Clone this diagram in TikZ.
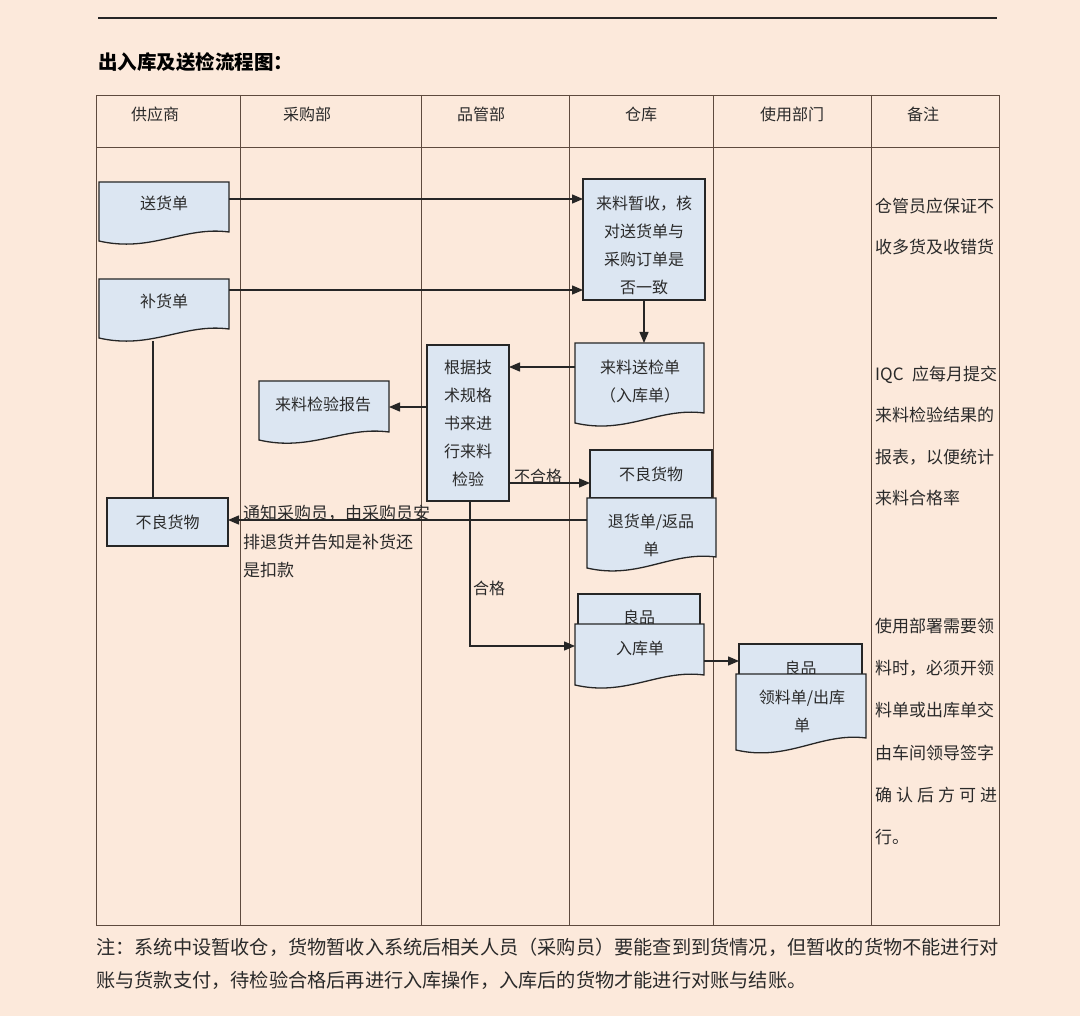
\documentclass[tikz,border=0pt]{standalone}
\usepackage{fontspec}
\setmainfont{Noto Sans CJK SC}
\usetikzlibrary{arrows.meta,calc}
\definecolor{bgc}{HTML}{FCE9DB}
\definecolor{boxfill}{HTML}{DCE6F2}
\definecolor{ink}{HTML}{262626}
\definecolor{txtc}{HTML}{2A2A2A}
\definecolor{gridc}{HTML}{5E4A3E}
% document shape: name, x1, top, x2, left-bottom, right rise
\newcommand\docshape[6]{%
  \path[docbox] (#2,#3) -- (#4,#3) -- (#4,{#5-#6})
    .. controls ({#4-0.35*(#4-#2)},{#5-#6-6}) and ({#2+0.4*(#4-#2)},{#5+12}) .. (#2,#5) -- cycle;
  \node[anchorbox, minimum width={#4-#2}, minimum height={#5-#3}] (#1) at ({(#2+#4)/2},{(#3+#5)/2}) {};
}
\begin{document}
\begin{tikzpicture}[x=1pt,y=-1pt,
  docbox/.style={fill=boxfill,draw=ink,line width=1.3pt},
  anchorbox/.style={draw=none,inner sep=0pt,outer sep=0pt,rectangle},
  rectbox/.style={rectangle,fill=boxfill,draw=ink,line width=1.3pt,inner sep=0pt,outer sep=0pt,
    font=\fontsize{16}{28}\selectfont,text=txtc,align=center},
  txt/.style={font=\fontsize{16}{28}\selectfont,text=txtc,align=center,inner sep=0pt},
  note/.style={font=\fontsize{17}{41.5}\selectfont,text=txtc,align=left,inner sep=0pt,anchor=west},
  arr/.style={draw=ink,line width=1.3pt,-{Triangle[length=11pt,width=9pt]}},
  ln/.style={draw=ink,line width=1.3pt},
  gridl/.style={draw=gridc,line width=0.9pt}]
\fill[bgc] (0,0) rectangle (1080,1016);
\useasboundingbox (0,0) rectangle (1080,1016);

% top rule and title
\draw[draw=ink,line width=1.4pt] (98,18) -- (997,18);
\node[anchor=west,inner sep=0pt,font=\fontsize{19.5}{22}\selectfont\bfseries,text=black] (title) at (98,62) {出入库及送检流程图：};

% table
\draw[gridl] (96,95) rectangle (999,925);
\draw[gridl] (96,147) -- (999,147);
\foreach \xx in {240,421,569,713,871} \draw[gridl] (\xx,95) -- (\xx,925);
\node[txt] (h1) at (155,114) {供应商};
\node[txt] (h2) at (307,114) {采购部};
\node[txt] (h3) at (481,114) {品管部};
\node[txt] (h4) at (641,114) {仓库};
\node[txt] (h5) at (792,114) {使用部门};
\node[txt] (h6) at (923,114) {备注};

% supplier column
\docshape{song}{99}{182}{229}{241}{9}
\node[txt] (songt) at (164,203) {送货单};
\docshape{bu}{99}{279}{229}{338}{9}
\node[txt] (but) at (164,301) {补货单};
\node[rectbox,minimum width=121,minimum height=48] (blL) at (167.5,522) {不良货物};

% warehouse
\node[rectbox,minimum width=122,minimum height=121] (zs) at (644,239.5) {};
\node[txt] (zst) at (644,245) {来料暂收，核\\对送货单与\\采购订单是\\否一致};
\docshape{sj}{575}{343}{704}{423}{10}
\node[txt] (sjt) at (640,381) {来料送检单\\（入库单）};

% QC
\node[rectbox,minimum width=82,minimum height=156] (gj) at (468,423) {根据技\\术规格\\书来进\\行来料\\检验};
\docshape{bg}{259}{381}{389}{440}{8}
\node[txt] (bgt) at (323,404) {来料检验报告};

\node[rectbox,minimum width=122,minimum height=48] (blM) at (651,474) {不良货物};
\docshape{th}{587}{498}{716}{568}{11}
\node[txt] (tht) at (651,535) {退货单/返品\\单};

\node[rectbox,minimum width=122,minimum height=46] (lpA) at (639,617) {良品};
\docshape{rk}{575}{624}{704}{685}{10}
\node[txt] (rkt) at (640,648) {入库单};

\node[rectbox,minimum width=123,minimum height=48] (lpB) at (800.5,668) {良品};
\docshape{ll}{736}{674}{866}{750}{12}
\node[txt] (llt) at (802,711.5) {领料单/出库\\单};

% connectors
\coordinate (c1) at ($(song.north east)+(0,17)$);
\draw[arr] (c1) -- (c1 -| zs.west);
\coordinate (c2) at ($(bu.north east)+(0,11)$);
\draw[arr] (c2) -- (c2 -| zs.west);
\draw[arr] (zs.south) -- (zs.south |- sj.north);
\coordinate (c4) at ($(sj.north west)+(0,24)$);
\draw[arr] (c4) -- (c4 -| gj.east);
\coordinate (c5) at ($(gj.west)+(0,-16)$);
\draw[arr] (c5) -- (c5 -| bg.east);
\coordinate (c6) at ($(gj.south east)+(0,-18)$);
\draw[arr] (c6) -- (c6 -| blM.west);
\node[txt,anchor=south west] (bhg) at (514,484) {不合格};
\coordinate (c8) at ($(bu.south west)+(54,3)$);
\draw[ln] (c8) -- (c8 |- blL.north);
\node[txt,font=\fontsize{17}{28.5}\selectfont,align=left,anchor=north west] (tz) at (243,505) {通知采购员，由采购员安\\排退货并告知是补货还\\是扣款};
\coordinate (c7) at ($(th.north west)+(0,22)$);
\draw[arr] (c7) -- (c7 -| blL.east);
\coordinate (c9) at ($(gj.south)+(2,0)$);
\coordinate (c9b) at ($(rk.north west)+(0,22)$);
\draw[arr] (c9) |- (c9b);
\node[txt,anchor=west] (hg) at (473,588) {合格};
\coordinate (c10) at ($(rk.north east)+(0,37)$);
\draw[arr] (c10) -- (c10 -| lpB.west);

% notes column
\node[note] (n1) at (875,226.5) {仓管员应保证不\\收多货及收错货};
\node[note] (n2) at (875,436) {\makebox[122pt][s]{IQC\hfil 应每月提交}\\来料检验结果的\\报表，以便统计\\来料合格率};
\node[note,font=\fontsize{17}{42.2}\selectfont] (n3) at (875,731.5) {使用部署需要领\\料时，必须开领\\料单或出库单交\\由车间领导签字\\\makebox[122pt][s]{确\hfil 认\hfil 后\hfil 方\hfil 可\hfil 进}\\行。};

% bottom remark
\node[txt,font=\fontsize{19.2}{33}\selectfont,align=left,anchor=west] (rem) at (96,963.5) {注：系统中设暂收仓，货物暂收入系统后相关人员（采购员）要能查到到货情况，但暂收的货物不能进行对\\账与货款支付，待检验合格后再进行入库操作，入库后的货物才能进行对账与结账。};
\end{tikzpicture}
\end{document}
